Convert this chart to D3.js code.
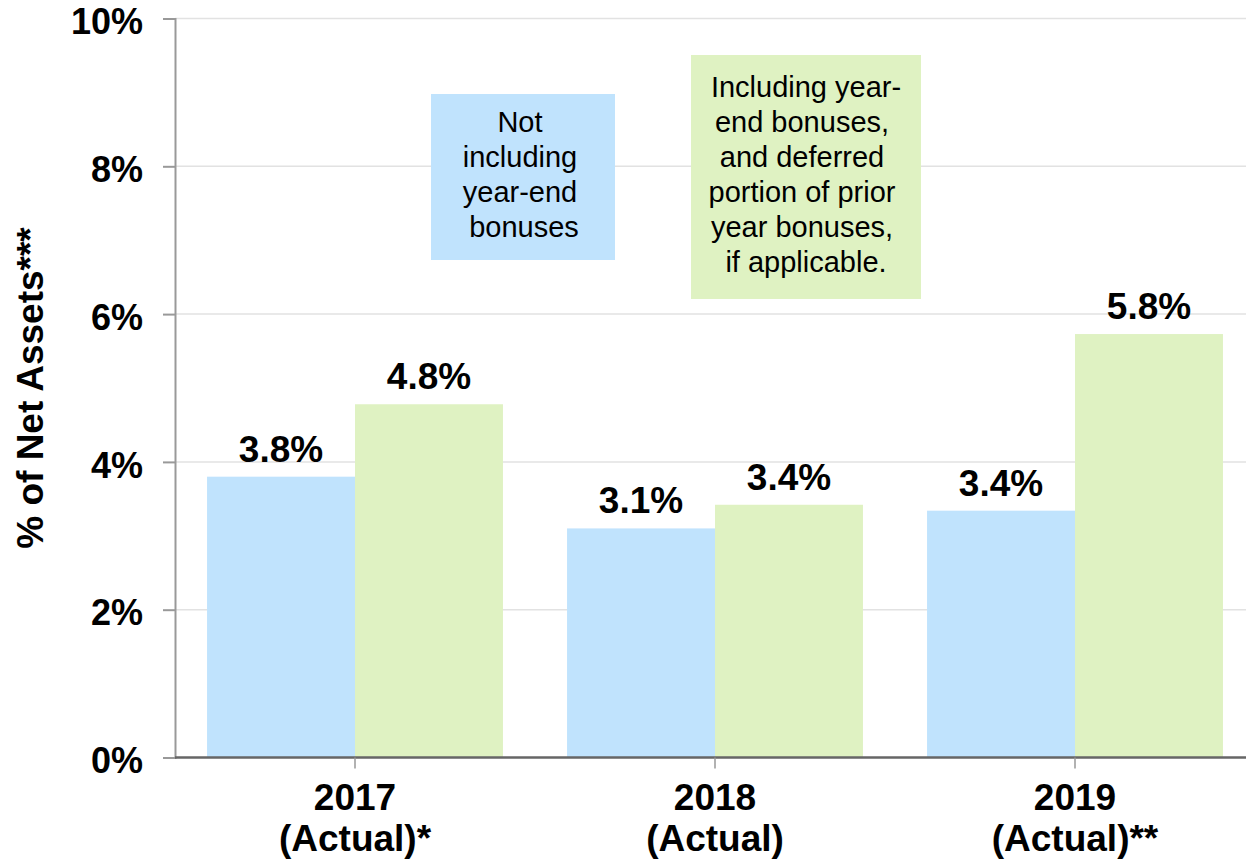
<!DOCTYPE html>
<html>
<head>
<meta charset="utf-8">
<script src="https://cdn.jsdelivr.net/npm/d3@7"></script>
<style>
  body { margin: 0; background: #fff; }
  text { font-family: "Liberation Sans", Arial, sans-serif; }
</style>
</head>
<body>
<div class="chart"></div>
<script>
// data
var years = ["2017", "2018", "2019"];
var yearNotes = ["(Actual)*", "(Actual)", "(Actual)**"];
var series = ["notIncluding", "including"];
var notIncluding = [3.8, 3.1, 3.34];
var including = [4.78, 3.42, 5.73];
var notIncludingLabels = ["3.8%", "3.1%", "3.4%"];
var includingLabels = ["4.8%", "3.4%", "5.8%"];
var yTicks = [0, 2, 4, 6, 8, 10];

var blueNote = ["Not", "including", "year-end", " bonuses"];
var greenNote = [" Including year-", "end bonuses,", "and deferred", "portion of prior", "year bonuses,", " if applicable."];

var svgWidth = 1246;
var svgHeight = 860;

var colors = { notIncluding: "#c0e3fd", including: "#dff2c2" };

var svg = d3.select(".chart")
    .append("svg")
    .attr("width", svgWidth)
    .attr("height", svgHeight);

var x0 = d3.scaleBand()
    .domain(years)
    .range([175, 1255])
    .paddingInner(0.178)
    .paddingOuter(0.089);

var x1 = d3.scaleBand()
    .domain(series)
    .range([0, x0.bandwidth()]);

var y = d3.scaleLinear()
    .domain([0, 10])
    .range([757.5, 18.5]);

// gridlines
svg.append("g")
    .selectAll("line")
    .data(yTicks.filter(d => d > 0))
    .enter()
    .append("line")
    .attr("x1", 175)
    .attr("x2", svgWidth)
    .attr("y1", d => y(d))
    .attr("y2", d => y(d))
    .attr("stroke", "#e2e2e2")
    .attr("stroke-width", 1.5);

// bars
var rows = years.map(function(yr, i) {
    return { year: yr, notIncluding: notIncluding[i], including: including[i],
             labels: { notIncluding: notIncludingLabels[i], including: includingLabels[i] } };
});

var groups = svg.append("g")
    .selectAll("g")
    .data(rows)
    .enter()
    .append("g")
    .attr("transform", d => `translate(${x0(d.year)},0)`);

groups.selectAll("rect")
    .data(d => series.map(s => ({ key: s, value: d[s], label: d.labels[s] })))
    .enter()
    .append("rect")
    .attr("x", d => x1(d.key))
    .attr("y", d => y(d.value))
    .attr("width", x1.bandwidth())
    .attr("height", d => y(0) - y(d.value))
    .attr("fill", d => colors[d.key]);

groups.selectAll("text")
    .data(d => series.map(s => ({ key: s, value: d[s], label: d.labels[s] })))
    .enter()
    .append("text")
    .attr("x", d => x1(d.key) + x1.bandwidth() / 2)
    .attr("y", d => y(d.value) - 15)
    .attr("text-anchor", "middle")
    .attr("font-size", "37px")
    .attr("font-weight", "bold")
    .attr("fill", "#000")
    .text(d => d.label);

// y axis
var leftAxis = d3.axisLeft(y)
    .tickValues(yTicks)
    .tickFormat(d => d + "%")
    .tickSize(12)
    .tickPadding(20);

var yAxis = svg.append("g")
    .attr("transform", "translate(175,0)")
    .call(leftAxis);

yAxis.select(".domain")
    .attr("stroke", "#999")
    .attr("stroke-width", 2);
yAxis.selectAll(".tick line")
    .attr("stroke", "#999")
    .attr("stroke-width", 2);
yAxis.selectAll(".tick text")
    .attr("font-family", "Liberation Sans, Arial, sans-serif")
    .attr("font-size", "36px")
    .attr("font-weight", "bold")
    .attr("fill", "#000")
    .attr("dy", "0.42em");

// x axis
var bottomAxis = d3.axisBottom(x0)
    .tickSize(11)
    .tickFormat("");

var xAxis = svg.append("g")
    .attr("transform", `translate(0,${y(0)})`)
    .call(bottomAxis);

xAxis.select(".domain")
    .attr("d", `M175,0H${svgWidth}`)
    .attr("stroke", "#666")
    .attr("stroke-width", 2.5);
xAxis.selectAll(".tick line")
    .attr("stroke", "#999")
    .attr("stroke-width", 1.5);

var xLabels = svg.append("g")
    .selectAll("text")
    .data(years)
    .enter()
    .append("text")
    .attr("x", d => x0(d) + x0.bandwidth() / 2)
    .attr("text-anchor", "middle")
    .attr("font-size", "37px")
    .attr("font-weight", "bold")
    .attr("fill", "#000");

xLabels.append("tspan")
    .attr("x", d => x0(d) + x0.bandwidth() / 2)
    .attr("y", 810)
    .text(d => d);

xLabels.append("tspan")
    .attr("x", d => x0(d) + x0.bandwidth() / 2)
    .attr("y", 851)
    .text((d, i) => yearNotes[i]);

// y axis title
svg.append("text")
    .attr("transform", "translate(43,388) rotate(-90)")
    .attr("text-anchor", "middle")
    .attr("font-size", "37px")
    .attr("font-weight", "bold")
    .attr("fill", "#000")
    .text("% of Net Assets***");

// note boxes
svg.append("rect")
    .attr("x", 431)
    .attr("y", 94)
    .attr("width", 184)
    .attr("height", 166)
    .attr("fill", colors.notIncluding);

svg.append("g")
    .selectAll("text")
    .data(blueNote)
    .enter()
    .append("text")
    .attr("x", 520)
    .attr("y", (d, i) => 132 + i * 35)
    .attr("text-anchor", "middle")
    .attr("font-size", "29px")
    .attr("fill", "#000")
    .style("white-space", "pre")
    .text(d => d);

svg.append("rect")
    .attr("x", 691)
    .attr("y", 55)
    .attr("width", 230)
    .attr("height", 244)
    .attr("fill", colors.including);

svg.append("g")
    .selectAll("text")
    .data(greenNote)
    .enter()
    .append("text")
    .attr("x", 802)
    .attr("y", (d, i) => 97 + i * 35)
    .attr("text-anchor", "middle")
    .attr("font-size", "29px")
    .attr("fill", "#000")
    .style("white-space", "pre")
    .text(d => d);
</script>
</body>
</html>
